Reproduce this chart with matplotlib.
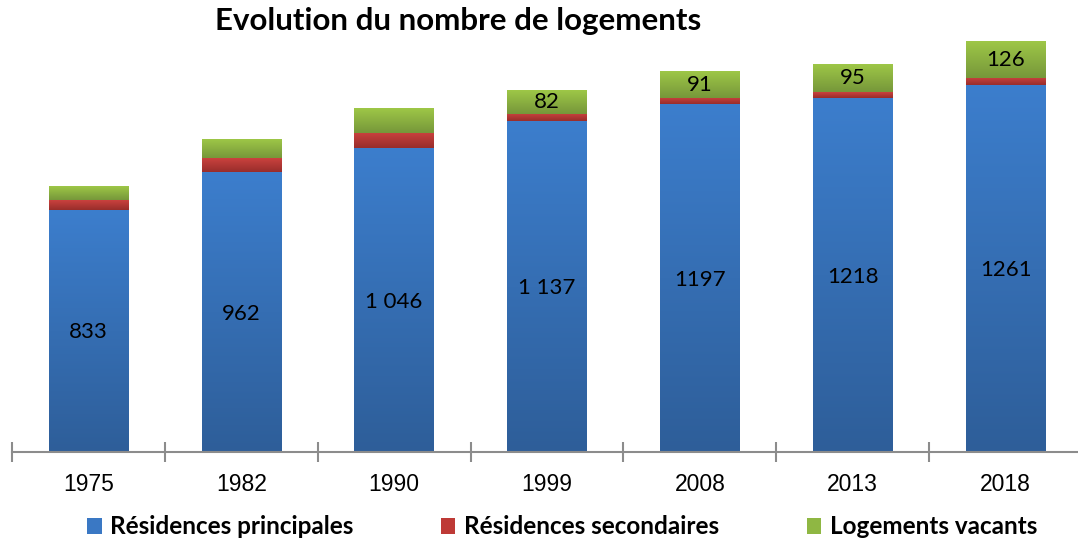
import numpy as np
import matplotlib.pyplot as plt
from matplotlib.colors import LinearSegmentedColormap
from matplotlib.patches import Patch

# data
years = ["1975", "1982", "1990", "1999", "2008", "2013", "2018"]
principales = [833, 962, 1046, 1137, 1197, 1218, 1261]
secondaires = [34, 48, 52, 27, 21, 20, 25]
vacants = [47, 62, 83, 82, 91, 95, 126]
lbl_principales = ["833", "962", "1 046", "1 137", "1197", "1218", "1261"]
lbl_vacants = ["", "", "", "82", "91", "95", "126"]

series = [
    ("Résidences principales", principales, ("#2e5e99", "#3c7ecd"), "#3a78c4"),
    ("Résidences secondaires", secondaires, ("#982d2b", "#ca423e"), "#be3a36"),
    ("Logements vacants", vacants, ("#76973a", "#9ec747"), "#8fb743"),
]

W, H = 1078, 542
fig = plt.figure(figsize=(W / 100, H / 100), dpi=100)
base_px = 451.7
scale = 0.2905  # px per unit
ymax = 1500
ax_h = ymax * scale
ax = fig.add_axes([12 / W, (H - base_px) / H, (1082 - 12) / W, ax_h / H])

bw = 0.52
grad = np.linspace(0, 1, 256).reshape(-1, 1)
bottoms = np.zeros(len(years))
for name, vals, (c0, c1), _ in series:
    cmap = LinearSegmentedColormap.from_list(name, [c0, c1])
    for i, v in enumerate(vals):
        b = bottoms[i]
        ax.imshow(grad, cmap=cmap, origin="lower", aspect="auto",
                  extent=(i - bw / 2, i + bw / 2, b, b + v), zorder=2)
    bottoms += np.array(vals)

ax.set_xlim(-0.5, 6.5)
ax.set_ylim(0, ymax)

lab_font = dict(family=["Lato", "DejaVu Sans"], fontsize=16, color="black")
for i in range(len(years)):
    ax.text(i, principales[i] / 2 - 6, lbl_principales[i], ha="center", va="center", zorder=3, **lab_font)
    if lbl_vacants[i]:
        y = principales[i] + secondaires[i] + vacants[i] / 2
        ax.text(i, y, lbl_vacants[i], ha="center", va="center", zorder=3, **lab_font)

for s in ["top", "left", "right"]:
    ax.spines[s].set_visible(False)
ax.spines["bottom"].set_color("#8c8c8c")
ax.spines["bottom"].set_linewidth(1.5)
ax.set_yticks([])
ax.set_xticks(range(len(years)))
ax.set_xticklabels(years, family="Liberation Sans", fontsize=16.5)
ax.tick_params(axis="x", which="major", length=0, pad=15)
ax.set_xticks(np.arange(-0.5, 7, 1), minor=True)
ax.tick_params(axis="x", which="minor", length=14, width=1.5, direction="inout", color="#8c8c8c")

fig.text(458 / W, 1 - 21 / H, "Evolution du nombre de logements", ha="center", va="center",
         family=["Lato", "DejaVu Sans"], fontweight="bold", fontsize=22.5)

handles = [Patch(facecolor=c, edgecolor="none", label=n) for n, _, _, c in series]
fig.legend(handles=handles, loc="center", bbox_to_anchor=(562 / W, 1 - 527 / H), ncol=3,
           frameon=False, prop=dict(family=["Lato", "DejaVu Sans"], weight="bold", size=17.5),
           handlelength=0.6, handleheight=0.6, handletextpad=0.35, columnspacing=3.6)

fig.savefig("out.png", dpi=100)
